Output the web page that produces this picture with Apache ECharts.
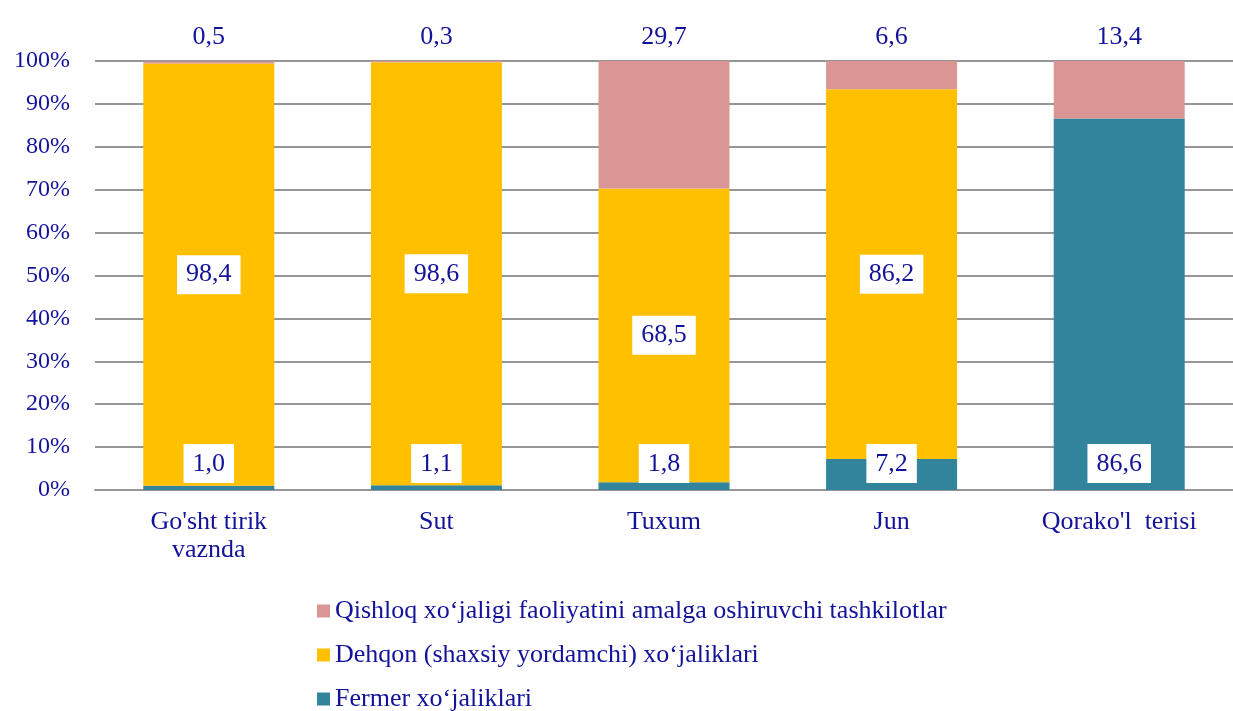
<!DOCTYPE html>
<html>
<head>
<meta charset="utf-8">
<script src="https://cdn.jsdelivr.net/npm/echarts@6/dist/echarts.min.js"></script>
<style>
html,body{margin:0;padding:0;background:#fff;overflow:hidden;}
#c{width:1233px;height:711px;}
</style>
</head>
<body>
<div id="c"></div>
<script>
var categories = ["Go'sht tirik\nvaznda", "Sut", "Tuxum", "Jun", "Qorako'l  terisi"];
var seriesNames = ["Qishloq xoʻjaligi faoliyatini amalga oshiruvchi tashkilotlar", "Dehqon (shaxsiy yordamchi) xoʻjaliklari", "Fermer xoʻjaliklari"];
var tashkilotlar = [0.5, 0.3, 29.7, 6.6, 13.4];
var dehqon = [98.4, 98.6, 68.5, 86.2, null];
var fermer = [1.0, 1.1, 1.8, 7.2, 86.6];
var yTicks = [0, 10, 20, 30, 40, 50, 60, 70, 80, 90, 100];

var FONT = '"Liberation Serif", "Times New Roman", serif';
var TXT = '#12129a';
function fmt(p){ return (p.value == null) ? '' : Number(p.value).toFixed(1).replace('.', ','); }
var boxLabel = {
  color: TXT, fontFamily: FONT, fontSize: 26,
  backgroundColor: '#fff', padding: [7, 9, 6, 9], formatter: fmt
};
function oneLegend(name, top){
  return {
    orient: 'vertical', left: 317, top: top, padding: 0,
    data: [name],
    icon: 'rect', itemWidth: 13, itemHeight: 13, itemGap: 0,
    textStyle: {color: TXT, fontFamily: FONT, fontSize: 26}
  };
}

var chart = echarts.init(document.getElementById('c'), null, {renderer: 'canvas'});
chart.setOption({
  backgroundColor: '#fff',
  animation: false,
  grid: {left: 95, top: 61, width: 1150, height: 429, containLabel: false},
  legend: [
    oneLegend(seriesNames[0], 598),
    oneLegend(seriesNames[1], 642),
    oneLegend(seriesNames[2], 686)
  ],
  xAxis: {
    type: 'category', data: categories,
    axisLine: {lineStyle: {color: '#969696', width: 2}},
    axisTick: {show: false},
    axisLabel: {color: TXT, fontFamily: FONT, fontSize: 26, margin: 18, lineHeight: 28, interval: 0}
  },
  yAxis: {
    type: 'value', min: yTicks[0], max: yTicks[yTicks.length - 1], interval: 10,
    axisLine: {show: false}, axisTick: {show: false},
    axisLabel: {color: TXT, fontFamily: FONT, fontSize: 24, margin: 25, formatter: '{value}%'},
    splitLine: {lineStyle: {color: '#969696', width: 2}}
  },
  series: [
    {
      name: seriesNames[2], type: 'bar', stack: 's', data: fermer, barWidth: 131,
      itemStyle: {color: '#31849B'},
      label: Object.assign({show: true, position: 'insideBottom', distance: 7}, boxLabel)
    },
    {
      name: seriesNames[1], type: 'bar', stack: 's', data: dehqon,
      itemStyle: {color: '#FFC000'},
      label: Object.assign({show: true, position: 'inside'}, boxLabel)
    },
    {
      name: seriesNames[0], type: 'bar', stack: 's', data: tashkilotlar,
      itemStyle: {color: '#D99694'},
      label: {show: true, position: 'top', distance: 11, color: TXT, fontFamily: FONT, fontSize: 26, formatter: fmt}
    }
  ]
});
</script>
</body>
</html>
